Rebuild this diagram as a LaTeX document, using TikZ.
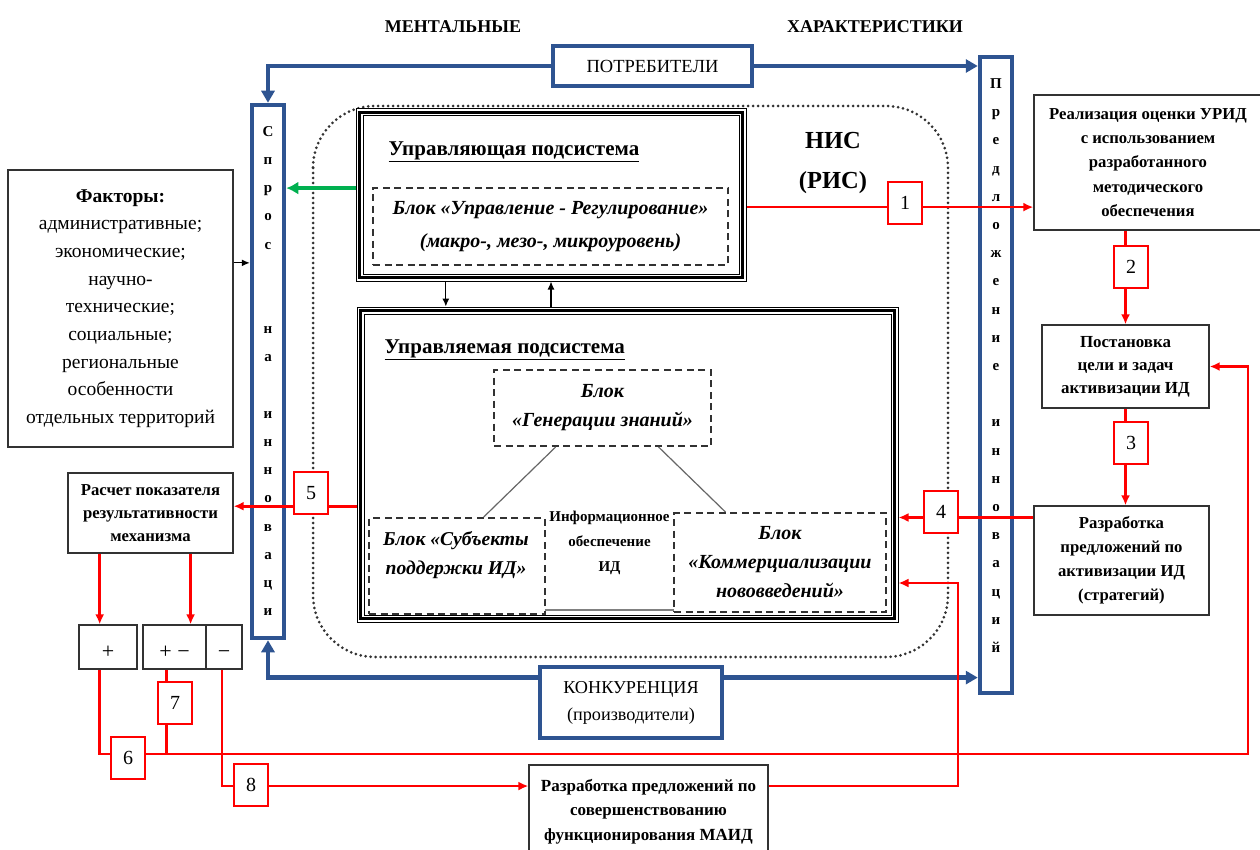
\documentclass[tikz,border=0pt]{standalone}
\usepackage{fontspec}
\setmainfont{Liberation Serif}
\usetikzlibrary{arrows.meta,calc}
\definecolor{myblue}{RGB}{46,84,145}
\definecolor{myred}{RGB}{255,0,0}
\definecolor{mygreen}{RGB}{0,176,80}
\definecolor{dgray}{RGB}{50,50,50}
\newcommand{\myfs}[2]{\fontsize{#1}{#2}\selectfont}
\begin{document}
\begin{tikzpicture}[x=1pt,y=-1pt,
  box/.style={draw=dgray, line width=1.3pt, fill=white, align=center, inner sep=0pt},
  signbox/.style={box, font=\myfs{22}{22}, text height=26pt, text depth=3pt},
  bluebox/.style={draw=myblue, line width=4.5pt, fill=white, align=center, inner sep=0pt},
  dashbox/.style={draw=dgray, line width=2pt, dash pattern=on 7pt off 4.5pt, align=center, inner sep=0pt},
  bartext/.style={align=center, inner sep=0pt, font=\myfs{15}{28.2}\bfseries},
  num/.style={draw=myred, line width=1.2pt, fill=white, minimum width=34, minimum height=42, inner sep=0pt, font=\myfs{20}{20}},
  redline/.style={draw=myred, line width=2.7pt},
  redarrow/.style={redline, -{Latex[length=10pt,width=9pt]}},
  bluearrow/.style={draw=myblue, line width=4.5pt, -{Triangle[length=12pt,width=13pt]}},
  blackarrow/.style={draw=black, line width=1.2pt, -{Latex[length=8pt,width=7pt]}},
  greenarrow/.style={draw=mygreen, line width=4pt, -{Latex[length=12pt,width=13pt]}},
  dotline/.style={draw=dgray, line width=3pt, dash pattern=on 0pt off 5pt, line cap=round, rounded corners=62}
]
\useasboundingbox (0,0) rectangle (1260,850);

% titles
\node[font=\myfs{18}{20}\bfseries] (t1) at (453,27) {МЕНТАЛЬНЫЕ};
\node[font=\myfs{18}{20}\bfseries] (t2) at (875,27) {ХАРАКТЕРИСТИКИ};

% dotted frame
\draw[dotline] (313,106) rectangle (948,657);

% bars
\node[bluebox, minimum width=32, minimum height=533] (lbar) at (268,371.5) {};
\node[bartext] (ltext) at (268,371) {С\\п\\р\\о\\с\\\mbox{}\\\mbox{}\\н\\а\\\mbox{}\\и\\н\\н\\о\\в\\а\\ц\\и};
\node[bluebox, minimum width=32, minimum height=636] (rbar) at (996,375) {};
\node[bartext] (rtext) at (996,365.5) {П\\р\\е\\д\\л\\о\\ж\\е\\н\\и\\е\\\mbox{}\\и\\н\\н\\о\\в\\а\\ц\\и\\й};

% blue boxes
\node[bluebox, minimum width=199, minimum height=40, font=\myfs{18.5}{20}] (potr) at (652.5,66) {ПОТРЕБИТЕЛИ};
\node[bluebox, minimum width=182, minimum height=71, font=\myfs{18.2}{27}] (konk) at (631,702.5) {КОНКУРЕНЦИЯ\\(производители)};

% blue connectors
\coordinate (kl) at ($(konk.north west)!0.17!(konk.south west)$);
\coordinate (kr) at ($(konk.north east)!0.17!(konk.south east)$);
\draw[bluearrow] (potr.west) -| (lbar.north);
\draw[bluearrow] (potr.east) -- (potr.east -| rbar.west);
\draw[bluearrow] (kl) -| (lbar.south);
\draw[bluearrow] (kr) -- (kr -| rbar.west);

% factors
\node[box, minimum width=225, minimum height=277, font=\myfs{19.5}{27.7}] (fact) at (120.5,308.5) {\textbf{Факторы:}\\административные;\\экономические;\\научно-\\технические;\\социальные;\\региональные\\особенности\\отдельных территорий};
\coordinate (fa) at ($(fact.north east)!0.336!(fact.south east)$);
\draw[blackarrow] (fa) -- (fa -| lbar.west);

% control subsystem
\node[box, draw=black, line width=1pt, minimum width=390, minimum height=172] (ctrl) at (551,195) {};
\draw[line width=2.6pt] ($(ctrl.north west)+(4,4)$) rectangle ($(ctrl.south east)+(-4,-4)$);
\draw[line width=1pt] ($(ctrl.north west)+(7.5,7.5)$) rectangle ($(ctrl.south east)+(-7.5,-7.5)$);
\node[anchor=west, font=\myfs{21}{22}\bfseries] (ctrlt) at (385,152) {\underline{Управляющая подсистема}};
\node[dashbox, minimum width=355, minimum height=77, font=\myfs{20}{33}\bfseries\itshape] (ctrlb) at (550.5,226.5) {Блок «Управление - Регулирование»\\(макро-, мезо-, микроуровень)};

\node[font=\myfs{24.5}{40}\bfseries, align=center] (nis) at (833,163) {НИС\\(РИС)};

% managed subsystem
\node[box, draw=black, line width=1pt, minimum width=541, minimum height=315] (man) at (627.5,464.5) {};
\draw[line width=2.6pt] ($(man.north west)+(4,4)$) rectangle ($(man.south east)+(-4,-4)$);
\draw[line width=1pt] ($(man.north west)+(7.5,7.5)$) rectangle ($(man.south east)+(-7.5,-7.5)$);
\node[anchor=west, font=\myfs{21}{22}\bfseries] (mant) at (381,350) {\underline{Управляемая подсистема}};
\node[dashbox, minimum width=217, minimum height=76, font=\myfs{20}{29}\bfseries\itshape] (gen) at (602.5,408) {Блок\\«Генерации знаний»};
\node[dashbox, minimum width=176, minimum height=96] (subj) at (457,566) {};
\node[font=\myfs{19.6}{29}\bfseries\itshape, align=center] (subjt) at (456,555) {Блок «Субъекты\\поддержки ИД»};
\node[font=\myfs{15}{25}\bfseries, align=center] (info) at (609.5,543) {Информационное\\обеспечение\\ИД};
\coordinate (ib1) at (545,610);
\coordinate (ib2) at (674,610);
\draw[gray, line width=1.3pt] (ib1) -- (ib2);
\node[dashbox, minimum width=212, minimum height=99, font=\myfs{20}{29}\bfseries\itshape] (comm) at (780,562.5) {Блок\\«Коммерциализации\\нововведений»};
\draw[gray!80!black, line width=1.2pt] ($(gen.south west)!0.286!(gen.south east)$) -- ($(subj.north west)!0.65!(subj.north east)$);
\draw[gray!80!black, line width=1.2pt] ($(gen.south west)!0.756!(gen.south east)$) -- ($(comm.north west)!0.245!(comm.north east)$);

% arrows between subsystems
\coordinate (d1) at ($(ctrl.south west)!0.231!(ctrl.south east)$);
\draw[blackarrow] (d1) -- (d1 |- man.north);
\draw[blackarrow] (ctrl.south |- man.north) -- (ctrl.south);

% green arrow
\coordinate (ga) at ($(ctrl.north west)!0.46!(ctrl.south west)$);
\draw[greenarrow] (ga) -- (ga -| lbar.east);

% right boxes
\node[box, minimum width=228, minimum height=135, font=\myfs{16.7}{24.3}\bfseries] (real) at (1148,162.5) {Реализация оценки УРИД\\с использованием\\разработанного\\методического\\обеспечения};
\node[box, minimum width=167, minimum height=83, font=\myfs{16.9}{23}\bfseries] (post) at (1125.5,366.5) {Постановка\\цели и задач\\активизации ИД};
\node[box, minimum width=175, minimum height=109, font=\myfs{16.7}{24}\bfseries] (razr) at (1121.5,560.5) {Разработка\\предложений по\\активизации ИД\\(стратегий)};

% left lower boxes
\node[box, minimum width=165, minimum height=80, font=\myfs{16.7}{23}\bfseries] (rasch) at (150.5,513) {Расчет показателя\\результативности\\механизма};
\node[signbox, minimum width=58, minimum height=44] (plus) at (108,647) {+};
\node[signbox, minimum width=63, minimum height=44] (pm) at (174.5,647) {+ −};
\node[signbox, minimum width=36, minimum height=44] (minus) at (224,647) {−};
\node[box, minimum width=239, minimum height=93, font=\myfs{17}{24.5}\bfseries] (maid) at (648.5,811.5) {Разработка предложений по\\совершенствованию\\функционирования МАИД};

% red connectors
\coordinate (r1) at ($(ctrl.north east)!0.57!(ctrl.south east)$);
\draw[redarrow] (r1) -- (r1 -| real.west);
\draw[redarrow] (real.south -| post.north) -- (post.north);
\draw[redarrow] (post.south) -- (post.south |- razr.north);
\coordinate (r4) at ($(razr.north west)!0.11!(razr.south west)$);
\draw[redarrow] (r4) -- (r4 -| man.east);
\coordinate (r5) at ($(man.north west)!0.632!(man.south west)$);
\draw[redarrow] (r5) -- (r5 -| rasch.east);
\coordinate (a1) at ($(plus.north west)!0.36!(plus.north east)$);
\coordinate (a2) at ($(pm.north west)!0.75!(pm.north east)$);
\draw[redarrow] (a1 |- rasch.south) -- (a1);
\draw[redarrow] (a2 |- rasch.south) -- (a2);
\coordinate (b1) at ($(plus.south west)!0.36!(plus.south east)$);
\coordinate (b2) at ($(pm.south west)!0.38!(pm.south east)$);
\coordinate (b3) at ($(minus.south west)!0.45!(minus.south east)$);
\coordinate (fb) at (1248,754);
\draw[redarrow] (b1) |- (fb) |- (post.east);
\draw[redline] (b2) -- (b2 |- fb);
\coordinate (m8) at ($(maid.north west)!0.23!(maid.south west)$);
\draw[redarrow] (b3) |- (m8);
\coordinate (m9) at ($(maid.north east)!0.23!(maid.south east)$);
\coordinate (c9) at (958,583);
\draw[redarrow] (m9) -| (c9) -- (c9 -| man.east);

% number labels
\node[num] (n1) at (905,203) {1};
\node[num] (n2) at (1131,267) {2};
\node[num] (n3) at (1131,443) {3};
\node[num] (n4) at (941,512) {4};
\node[num] (n5) at (311,493) {5};
\node[num] (n6) at (128,758) {6};
\node[num] (n7) at (175,703) {7};
\node[num] (n8) at (251,785) {8};
\end{tikzpicture}
\end{document}
